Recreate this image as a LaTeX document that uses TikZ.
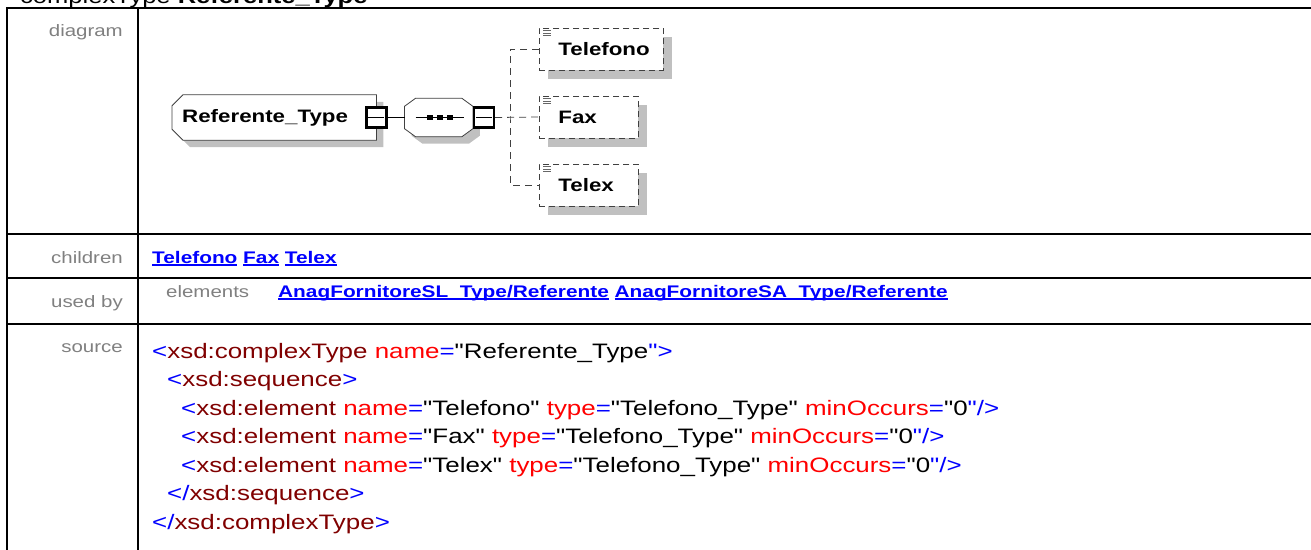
\documentclass[tikz,border=0pt]{standalone}
\usepackage{fontspec}
\setmainfont{Liberation Sans}[FakeStretch=1.24,Ligatures=TeXOff]
\usetikzlibrary{positioning, shadows, backgrounds}

\definecolor{tagred}{HTML}{800000}
\definecolor{xblue}{HTML}{0000FF}
\definecolor{xred}{HTML}{FF0000}
\definecolor{labelgray}{HTML}{808080}
\definecolor{shade}{HTML}{C0C0C0}

\newcommand\xtag[1]{\textcolor{tagred}{#1}}
\newcommand\xatt[1]{\textcolor{xred}{#1}}
\newcommand\xsym[1]{\textcolor{xblue}{#1}}
\newcommand\xlink[1]{\setbox0\hbox{\bfseries #1}\rlap{\rule[-3.2pt]{\wd0}{1.8pt}}\box0\relax}

\begin{document}
\begin{tikzpicture}[
  x=1pt, y=-1pt,
  grid line/.style={line width=2pt},
  rowlabel/.style={anchor=base east, text=labelgray, inner sep=0pt, font=\fontsize{16.5}{18}\selectfont},
  links/.style={anchor=base west, text=xblue, inner sep=0pt, font=\fontsize{16.8}{18}\selectfont},
  srcline/.style={anchor=base west, inner sep=0pt, font=\fontsize{20.9}{24}\selectfont},
  boxshadow/.style={drop shadow={shadow xshift=#1, shadow yshift=-#1, fill=shade, opacity=1, draw=none}},
  outline/.style={draw=black!75, line width=0.8pt, fill=white, boxshadow=#1},
  ctype/.style={
    minimum height=45pt, inner xsep=0pt, text width=204pt, align=left,
    font=\fontsize{18}{20}\selectfont\bfseries
  },
  seqframe/.style={minimum width=68pt, minimum height=38pt, inner sep=0pt},
  minsq/.style={
    draw=black, line width=2.2pt, fill=white, minimum size=20pt, inner sep=0pt,
    path picture={\draw[line width=0.7pt] ([xshift=2pt]path picture bounding box.west) -- ([xshift=-2pt]path picture bounding box.east);}
  },
  elem/.style={
    draw=black!75, dash pattern=on 6pt off 4pt, line width=0.8pt, fill=white, boxshadow=9pt,
    minimum height=42pt, inner xsep=0pt, text width=#1, align=left, anchor=west,
    font=\fontsize{18}{20}\selectfont\bfseries
  },
  dline/.style={draw=black!75, line width=0.8pt, dash pattern=on 7pt off 5pt},
  icon/.style={draw=black!60, line width=0.7pt}
]
\useasboundingbox (0,0) rectangle (1311,549);

% table frame
\draw[grid line] (7,8) -- (1315,8);
\draw[grid line] (7,234) -- (1315,234);
\draw[grid line] (7,278) -- (1315,278);
\draw[grid line] (7,324) -- (1315,324);
\draw[grid line] (7,7) -- (7,555);
\draw[grid line] (138,7) -- (138,555);

\node[anchor=base west, inner sep=0pt, font=\fontsize{20.6}{24}\selectfont] (title) at (20,3.5) {complexType \textbf{Referente\_Type}};

% row labels
\node[rowlabel] (lbldiag) at (123,36) {diagram};
\node[rowlabel] (lblchild) at (123,263) {children};
\node[rowlabel] (lblused) at (123,307) {used by};
\node[rowlabel] (lblsrc) at (123,352) {source};

% diagram
\node[ctype, anchor=west] (reftype) at (172,117.5) {\hspace*{10pt}Referente\_Type};
\node[minsq] (sqa) at (reftype.east) {};
\node[seqframe, right=17pt of sqa] (seq) {};
\node[minsq, anchor=west] (sqb) at (seq.east) {};

\begin{scope}[on background layer]
  \path[outline=7pt] ([xshift=11pt]reftype.north west) -- (reftype.north east) -- (reftype.south east)
    -- ([xshift=11pt]reftype.south west) -- ([yshift=11pt]reftype.south west)
    -- ([yshift=-11pt]reftype.north west) -- cycle;
  \path[outline=7pt] ([xshift=11pt]seq.north west) -- ([xshift=-11pt]seq.north east)
    -- ([yshift=-8pt]seq.north east) -- ([yshift=8pt]seq.south east)
    -- ([xshift=-11pt]seq.south east) -- ([xshift=11pt]seq.south west)
    -- ([yshift=8pt]seq.south west) -- ([yshift=-8pt]seq.north west) -- cycle;
\end{scope}
\draw[line width=0.8pt] ([xshift=11pt]seq.west) -- ([xshift=-9pt]seq.east);
\foreach \dx in {-9,1,11}
  \fill ([xshift=\dx pt]seq.center) +(-3pt,-2.6pt) rectangle +(3pt,2.6pt);

\node[elem=124pt] (tel) at (539,49) {\hspace*{19pt}Telefono};
\node[elem=99pt] (fax) at (539,117) {\hspace*{19pt}Fax};
\node[elem=99pt] (telex) at (539,185) {\hspace*{19pt}Telex};

\foreach \n in {tel,fax,telex}
  \foreach \k in {0,1,2}
    \draw[icon] ([xshift=4pt,yshift={-(3+2.5*\k)*1pt}]\n.north west) -- ++(8,0);

\draw[line width=0.8pt] (sqa.east) -- (seq.west);
\coordinate (bus) at (510,117);
\draw[dline] (sqb.east) -- (fax.west);
\draw[dline] (tel.west) -| (bus) |- (telex.west);

% children / used by
\node[links] (kids) at (152,263) {\xlink{Telefono} \xlink{Fax} \xlink{Telex}};
\node[rowlabel, anchor=base west] (elems) at (166,297) {elements};
\node[links] (users) at (278,297) {\xlink{AnagFornitoreSL\_Type/Referente} \xlink{AnagFornitoreSA\_Type/Referente}};

% source
\node[srcline] (src1) at (152,358) {\xsym{<}\xtag{xsd:complexType} \xatt{name}\xsym{=}"Referente\_Type\xsym{">}};
\node[srcline] (src2) at (167,386.5) {\xsym{<}\xtag{xsd:sequence}\xsym{>}};
\node[srcline] (src3) at (181,415) {\xsym{<}\xtag{xsd:element} \xatt{name}\xsym{=}"Telefono" \xatt{type}\xsym{=}"Telefono\_Type" \xatt{minOccurs}\xsym{=}"0\xsym{"/>}};
\node[srcline] (src4) at (181,443.5) {\xsym{<}\xtag{xsd:element} \xatt{name}\xsym{=}"Fax" \xatt{type}\xsym{=}"Telefono\_Type" \xatt{minOccurs}\xsym{=}"0\xsym{"/>}};
\node[srcline] (src5) at (181,472) {\xsym{<}\xtag{xsd:element} \xatt{name}\xsym{=}"Telex" \xatt{type}\xsym{=}"Telefono\_Type" \xatt{minOccurs}\xsym{=}"0\xsym{"/>}};
\node[srcline] (src6) at (167,500.5) {\xsym{</}\xtag{xsd:sequence}\xsym{>}};
\node[srcline] (src7) at (152,529) {\xsym{</}\xtag{xsd:complexType}\xsym{>}};
\end{tikzpicture}
\end{document}
